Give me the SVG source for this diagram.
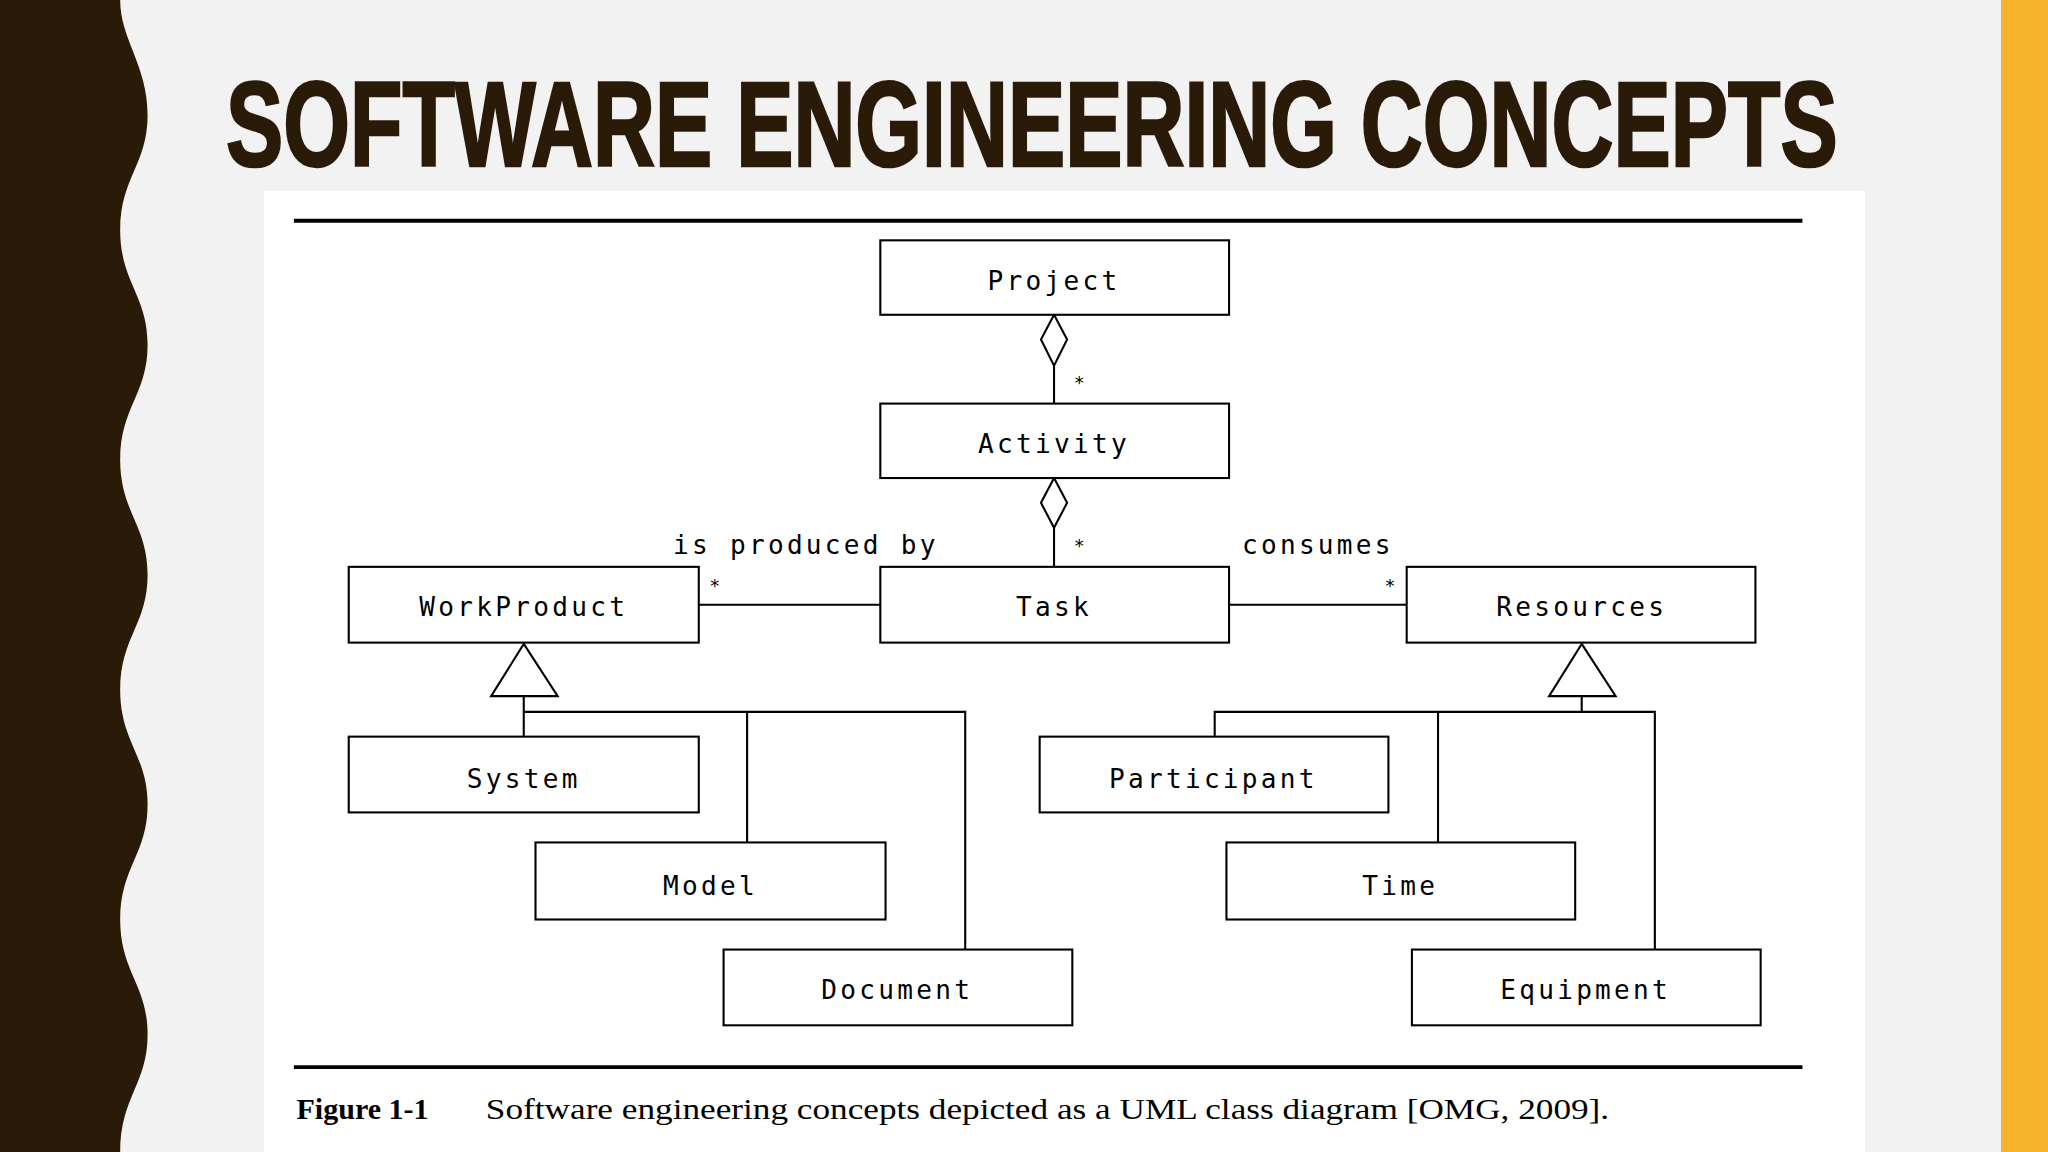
<svg xmlns="http://www.w3.org/2000/svg" width="2048" height="1152" viewBox="0 0 2048 1152">
<style>
.b{fill:#fff;stroke:#000;stroke-width:1.6}
.t{font-family:"DejaVu Sans Mono",monospace;font-size:20px;letter-spacing:2.5px;text-anchor:middle;fill:#000}
.l{fill:none;stroke:#000;stroke-width:1.6}
.s{font-family:"DejaVu Sans Mono",monospace;font-size:14px;fill:#000}
</style>
<g transform="scale(1.30612)">
<rect width="1568" height="882" fill="#f2f2f2"/>
<rect x="1532" width="36" height="882" fill="#f7b32b"/>
<path d="M0 0 H92 C92 30 113 50 113 88 C113 126 92 136 92 176 C92 216 113 226 113 264 C113 302 92 312 92 352 C92 392 113 402 113 440 C113 478 92 488 92 528 C92 568 113 578 113 616 C113 654 92 664 92 704 C92 744 113 754 113 792 C113 830 92 840 92 882 H0 Z" fill="#2a1a08"/>
<text x="173" y="127" font-family="Liberation Sans, sans-serif" font-weight="bold" font-size="92" textLength="1234" lengthAdjust="spacingAndGlyphs" fill="#2a1a08" stroke="#2a1a08" stroke-width="2">SOFTWARE ENGINEERING CONCEPTS</text>
<rect x="202" y="146" width="1226" height="736" fill="#fff"/>
<line x1="225" y1="169" x2="1380" y2="169" stroke="#000" stroke-width="3"/>
<line x1="225" y1="817" x2="1380" y2="817" stroke="#000" stroke-width="3"/>
<g id="connectors">
<path class="l" d="M807 241 L817 260 L807 280 L797 260 Z M807 280 V309"/>
<path class="l" d="M807 366 L817 385 L807 404 L797 385 Z M807 404 V434"/>
<path class="l" d="M535 463 H674 M941 463 H1077"/>
<path class="l" d="M401 493 L427 533 H376 Z M401 533 V564 M401 545 H739 V727 M572 545 V645"/>
<path class="l" d="M1211 493 L1237 533 H1186 Z M1211 533 V545 M930 564 V545 H1267 V727 M1101 545 V645"/>
<text class="s" x="822" y="298">*</text>
<text class="s" x="822" y="423">*</text>
<text class="s" x="543" y="453">*</text>
<text class="s" x="1060" y="453">*</text>
<text class="t" x="617" y="424">is produced by</text>
<text class="t" x="1009" y="424">consumes</text>
</g>
<g id="project"><rect class="b" x="674" y="184" width="267" height="57"/><text class="t" x="807" y="222">Project</text></g>
<g id="activity"><rect class="b" x="674" y="309" width="267" height="57"/><text class="t" x="807" y="347">Activity</text></g>
<g id="task"><rect class="b" x="674" y="434" width="267" height="58"/><text class="t" x="807" y="472">Task</text></g>
<g id="workproduct"><rect class="b" x="267" y="434" width="268" height="58"/><text class="t" x="401" y="472">WorkProduct</text></g>
<g id="resources"><rect class="b" x="1077" y="434" width="267" height="58"/><text class="t" x="1211" y="472">Resources</text></g>
<g id="system"><rect class="b" x="267" y="564" width="268" height="58"/><text class="t" x="401" y="603">System</text></g>
<g id="model"><rect class="b" x="410" y="645" width="268" height="59"/><text class="t" x="544" y="685">Model</text></g>
<g id="document"><rect class="b" x="554" y="727" width="267" height="58"/><text class="t" x="687" y="765">Document</text></g>
<g id="participant"><rect class="b" x="796" y="564" width="267" height="58"/><text class="t" x="929" y="603">Participant</text></g>
<g id="time"><rect class="b" x="939" y="645" width="267" height="59"/><text class="t" x="1072" y="685">Time</text></g>
<g id="equipment"><rect class="b" x="1081" y="727" width="267" height="58"/><text class="t" x="1214" y="765">Equipment</text></g>
<text x="227" y="857" font-family="Liberation Serif, serif" font-size="23" font-weight="bold">Figure 1-1</text>
<text x="372" y="857" font-family="Liberation Serif, serif" font-size="23" textLength="860" lengthAdjust="spacingAndGlyphs">Software engineering concepts depicted as a UML class diagram [OMG, 2009].</text>
</g>
</svg>
